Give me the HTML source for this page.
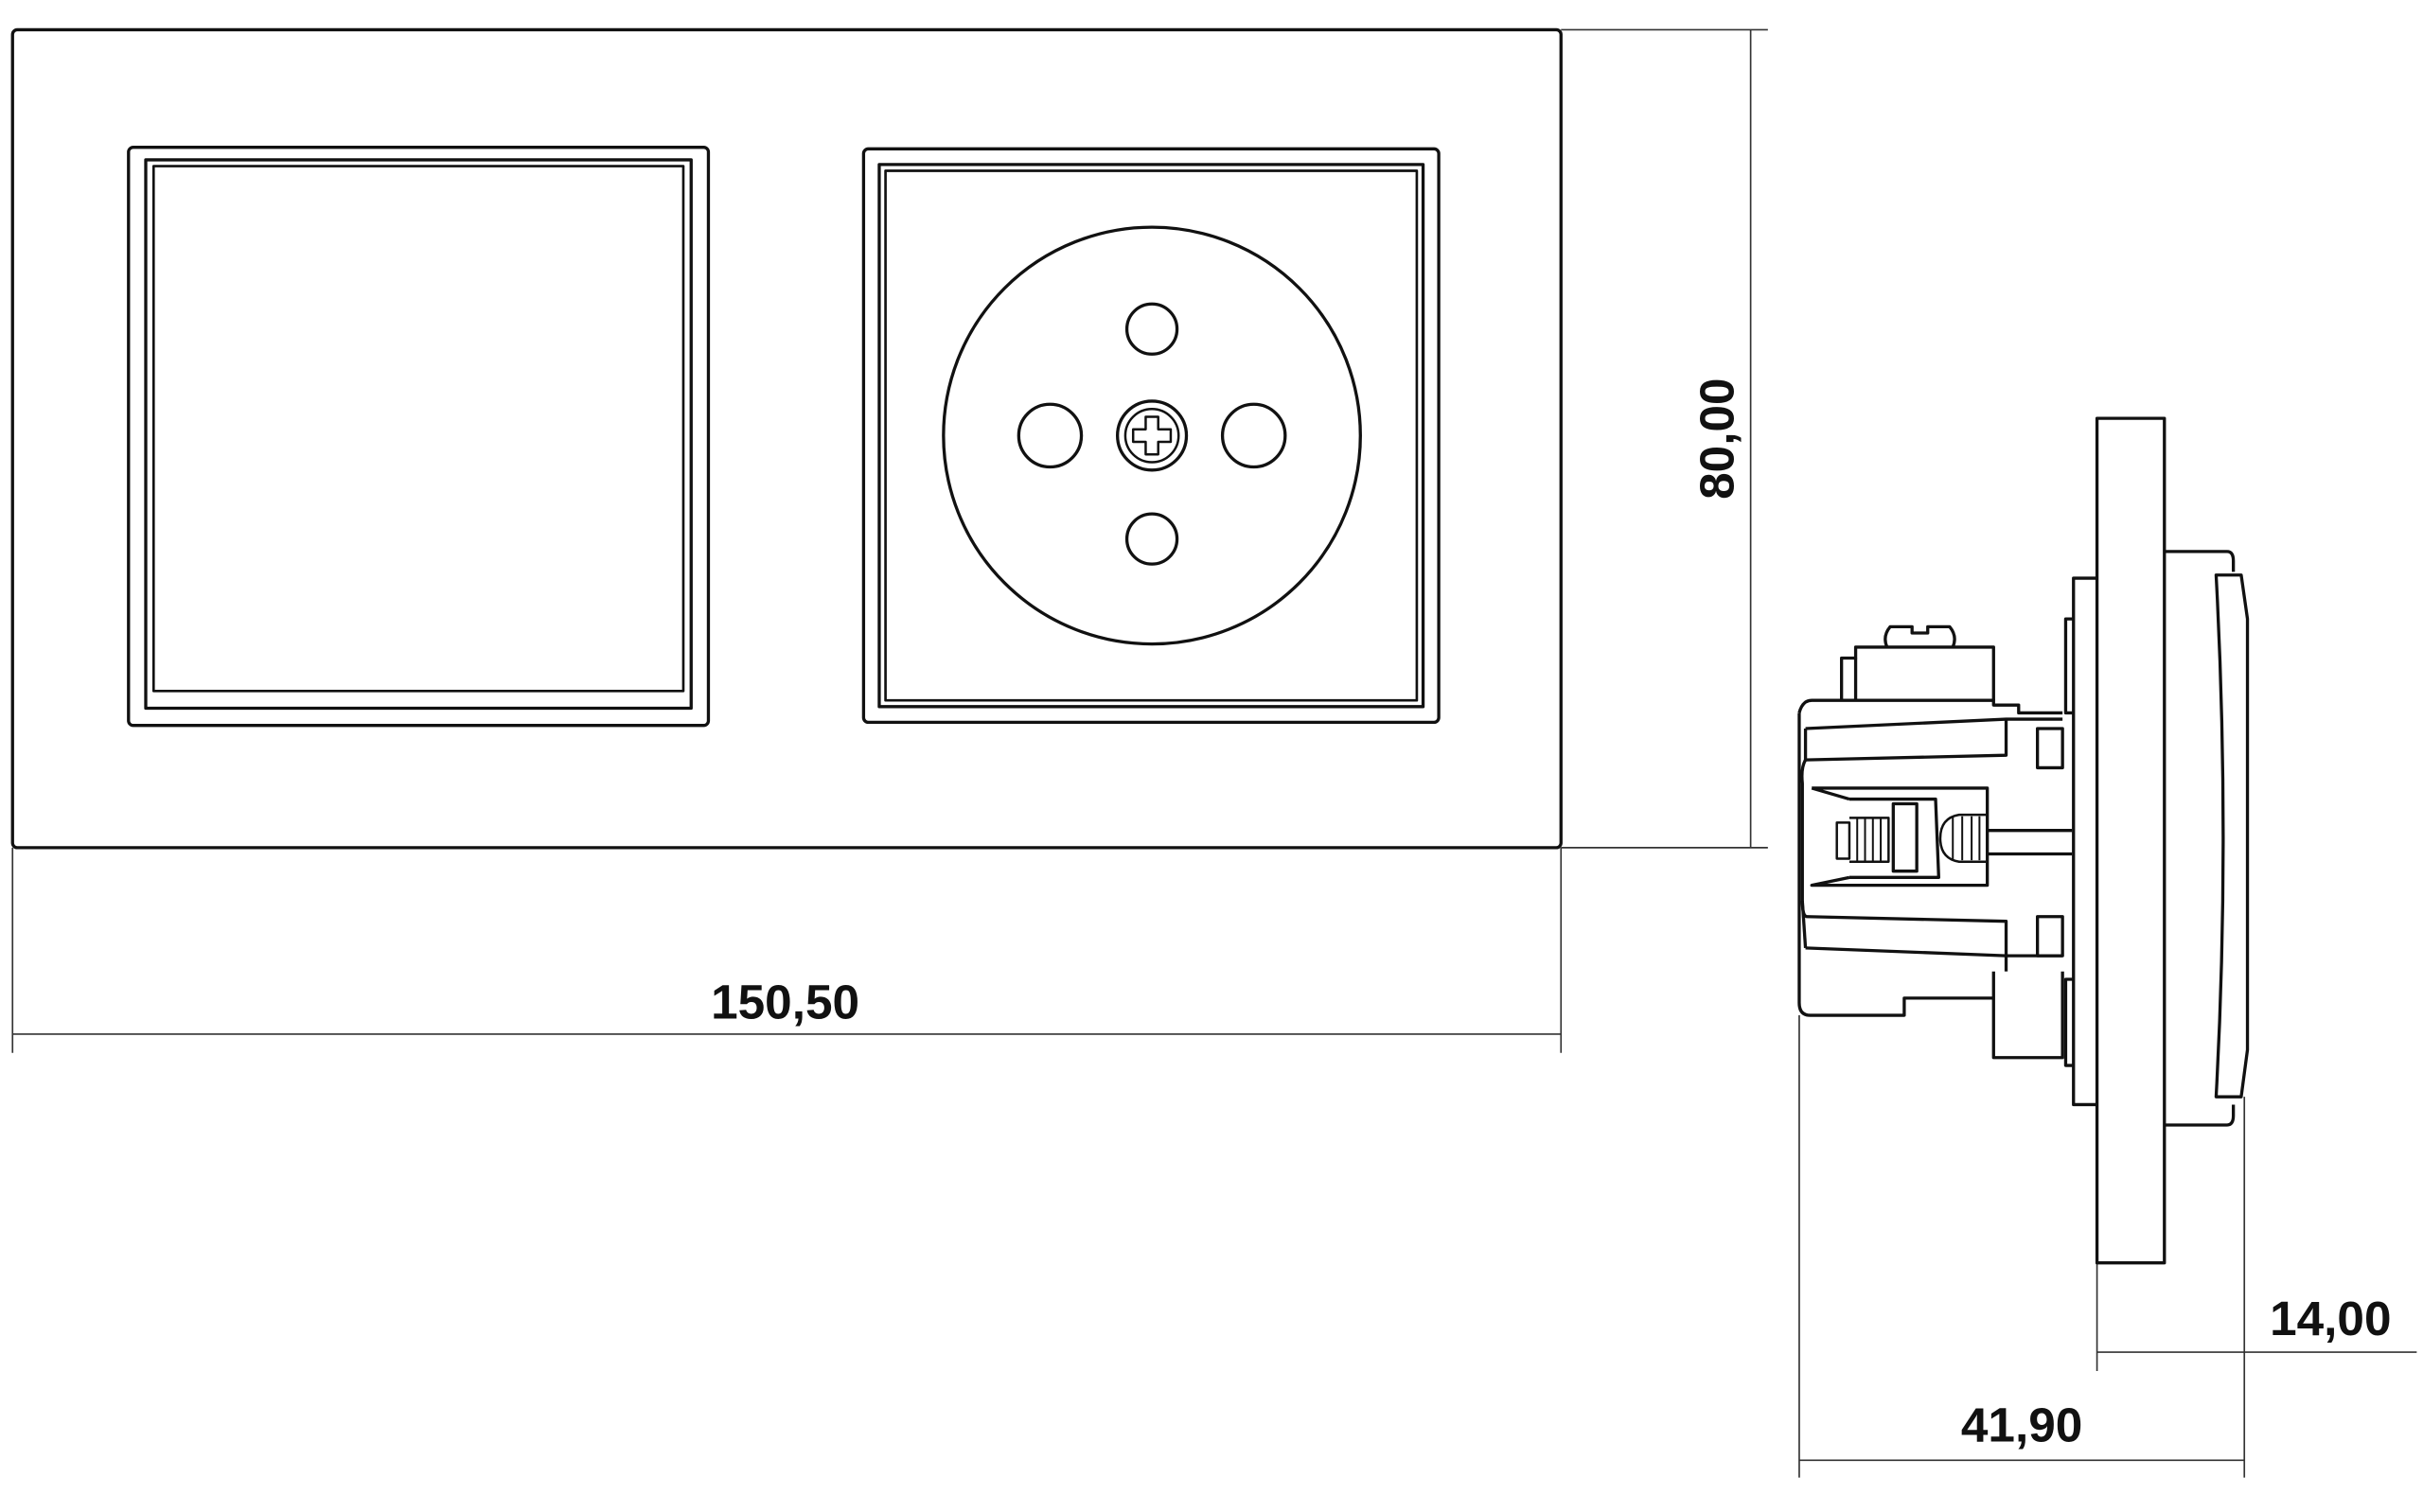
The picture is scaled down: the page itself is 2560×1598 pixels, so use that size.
<!DOCTYPE html>
<html><head><meta charset="utf-8"><style>html,body{margin:0;padding:0;background:#fff}svg{display:block}</style></head>
<body>
<svg width="2560" height="1598" viewBox="0 0 1546 965" preserveAspectRatio="none" xmlns="http://www.w3.org/2000/svg">
<g fill="none" stroke="#111" stroke-width="2" stroke-linejoin="round">
<rect x="8" y="19" width="988" height="522" rx="3"/>
<rect x="82" y="94" width="370" height="369" rx="3"/>
<rect x="93" y="102" width="348" height="350"/>
<rect x="98" y="106" width="338" height="335" stroke-width="1.6"/>
<rect x="551" y="95" width="367" height="366" rx="3"/>
<rect x="561" y="105" width="347" height="346"/>
<rect x="565" y="109" width="339" height="338" stroke-width="1.6"/>
<ellipse cx="735" cy="278" rx="133" ry="133"/>
<circle cx="735" cy="210" r="16"/>
<circle cx="735" cy="344" r="16"/>
<circle cx="670" cy="278" r="20"/>
<circle cx="800" cy="278" r="20"/>
<circle cx="735" cy="278" r="22"/>
<circle cx="735" cy="278" r="17" stroke-width="1.5"/>
<path d="M731 266h8v8h8v8h-8v8h-8v-8h-8v-8h8z" stroke-width="1.5"/>
</g>
<g stroke="#333" stroke-width="1" fill="none">
<path d="M996 19H1128M996 541H1128M1117 19V541"/>
<path d="M8 541V672M996 541V672M8 660H996"/>
<path d="M1148 648V943M1432 700V943M1148 932H1432"/>
<path d="M1338 806V875M1338 863H1542"/>
</g>
<g font-family="'Liberation Sans',sans-serif" font-weight="bold" font-size="31" fill="#111">
<text x="501" y="650" text-anchor="middle">150,50</text>
<text x="1290" y="920" text-anchor="middle">41,90</text>
<text x="1487" y="852" text-anchor="middle">14,00</text>
<text transform="translate(1106,280) rotate(-90)" text-anchor="middle">80,00</text>
</g>
<g fill="none" stroke="#111" stroke-width="2" stroke-linejoin="round">
<rect x="1338" y="267" width="43" height="539"/>
<path d="M1381 352H1421Q1425 352 1425 358V365"/>
<path d="M1381 718H1421Q1425 718 1425 712V705"/>
<path d="M1414 367H1430L1434 395V670L1430 700H1414Q1423 535 1414 367Z"/>
<path d="M1338 369H1323V705H1338"/>
<path d="M1323 395H1318V455H1323M1323 625H1318V680H1323"/>
<path d="M1204 413Q1201 406 1206 400H1220V404H1230V400H1244Q1249 406 1246 413"/>
<path d="M1175 447V420H1184V413H1272V447"/>
<path d="M1184 420V447"/>
<path d="M1148 455Q1150 447 1156 447H1272V450H1288V455H1316"/>
<path d="M1148 455V640Q1148 648 1155 648H1215V637H1272"/>
<path d="M1152 465L1280 459H1316"/>
<path d="M1152 465V485L1280 482V459"/>
<path d="M1300 465H1316V490H1300Z"/>
<path d="M1300 585H1316V610H1300Z"/>
<path d="M1152 485Q1149 490 1150 500V575Q1150 585 1153 585L1280 588V610H1316"/>
<path d="M1152 605L1280 610"/>
<path d="M1150 575L1152 605"/>
<path d="M1272 620V675H1316V620"/>
<path d="M1280 610V620"/>
<path d="M1156 503L1268 503V565H1156L1180 560M1156 503L1180 510"/>
<path d="M1180 510H1235L1237 560H1180"/>
<rect x="1208" y="513" width="15" height="43"/>
<path d="M1268 530H1322M1268 545H1322"/>
<path d="M1172 525H1180V548H1172Z" stroke-width="1.5"/>
<path d="M1180 522H1205V550H1180" stroke-width="1.5"/>
<path d="M1185 522V550M1190 522V550M1195 522V550M1200 522V550" stroke-width="1.2"/>
<path d="M1250 520Q1238 522 1238 535Q1238 548 1250 550H1268V520Z" stroke-width="1.5"/>
<path d="M1246 521V549M1252 521V549M1258 521V549M1263 521V549" stroke-width="1.2"/>
</g>
</svg>
</body></html>
